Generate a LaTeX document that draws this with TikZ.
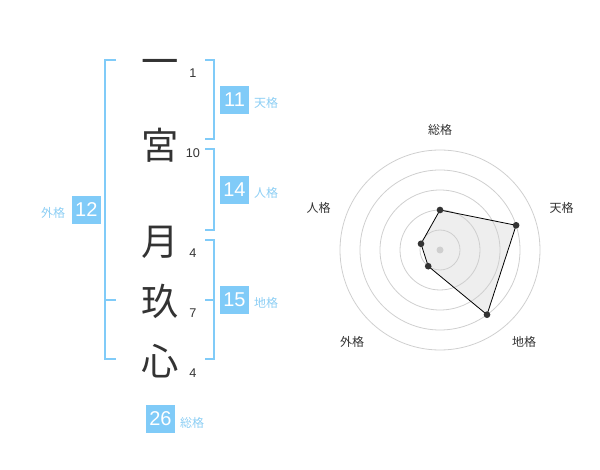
\documentclass[tikz,border=0pt]{standalone}
\usepackage{fontspec}
\setmainfont{Liberation Sans}
\newfontfamily\cjk{Noto Sans CJK JP}
\definecolor{brk}{HTML}{80CBF8}
\definecolor{lbl}{HTML}{8CCEF4}
\definecolor{ink}{HTML}{333333}
\definecolor{ringc}{HTML}{CFCFCF}
\definecolor{area}{HTML}{EEEEEE}
\begin{document}
\begin{tikzpicture}[x=0.75pt,y=-0.75pt,
  bigchar/.style={font=\cjk\fontsize{28}{28}\selectfont,text=ink,inner sep=0pt,text height=0.88em,text depth=0.12em},
  strokes/.style={font=\fontsize{9.5}{10}\selectfont,text=ink,inner sep=0pt},
  numbox/.style={fill=brk,text=white,minimum width=21.75pt,minimum height=21pt,inner sep=0pt,font=\fontsize{15}{15}\selectfont},
  kaku/.style={font=\cjk\fontsize{9}{9}\selectfont,text=lbl,inner sep=0pt},
  bracket/.style={draw=brk,line width=1.5pt},
  ringline/.style={draw=ringc,line width=0.6pt},
  axlabel/.style={font=\cjk\fontsize{9}{9}\selectfont,text=ink,inner sep=0pt},
  dot/.style={circle,fill=ink,inner sep=0pt,minimum size=5pt}]
\useasboundingbox (0,0) rectangle (600,470);
% characters
\node[bigchar] (c1) at (160,70) {一};
\node[bigchar] (c2) at (160,154) {宮};
\node[bigchar] (c3) at (160,250) {月};
\node[bigchar] (c4) at (160,310) {玖};
\node[bigchar] (c5) at (160,370) {心};
% stroke counts
\node[strokes] (s1) at (193,73) {1};
\node[strokes] (s2) at (193,153) {10};
\node[strokes] (s3) at (193,253) {4};
\node[strokes] (s4) at (193,313) {7};
\node[strokes] (s5) at (193,373) {4};
% brackets
\draw[bracket] (116,60) -- (105,60) -- (105,359) -- (116,359);
\draw[bracket] (105,300) -- (116,300);
\draw[bracket] (205,60) -- (214,60) -- (214,139) -- (205,139);
\draw[bracket] (205,149) -- (214,149) -- (214,230) -- (205,230);
\draw[bracket] (205,240) -- (214,240) -- (214,359) -- (205,359);
\draw[bracket] (205,300) -- (214,300);
% boxes
\node[numbox] (ten) at (234.5,100) {11};
\node[kaku] (tenl) at (266,103) {天格};
\node[numbox] (jin) at (234.5,190) {14};
\node[kaku] (jinl) at (266,193) {人格};
\node[numbox] (chi) at (234.5,300) {15};
\node[kaku] (chil) at (266,303) {地格};
\node[numbox] (gai) at (86.3,210) {12};
\node[kaku] (gail) at (53,213) {外格};
\node[numbox] (sou) at (160.5,419) {26};
\node[kaku] (soul) at (192,423) {総格};
% radar
\coordinate (ctr) at (440,250);
\coordinate (p1) at (440,210);
\coordinate (p2) at (516.1,225.3);
\coordinate (p3) at (487.0,314.7);
\coordinate (p4) at (428.2,266.2);
\coordinate (p5) at (421.0,243.8);
\fill[area] (p1) -- (p2) -- (p3) -- (p4) -- (p5) -- cycle;
\foreach \r in {20,40,60,80,100} \draw[ringline] (ctr) circle[radius=\r];
\draw[black,line width=0.6pt] (p1) -- (p2) -- (p3) -- (p4) -- (p5) -- cycle;
\fill[ringc] (ctr) circle[radius=3.5];
\foreach \p in {p1,p2,p3,p4,p5} \node[dot] at (\p) {};
\node[axlabel] (a1) at (440,130) {総格};
\node[axlabel] (a2) at (561.5,208) {天格};
\node[axlabel] (a3) at (524,341.5) {地格};
\node[axlabel] (a4) at (352,341.5) {外格};
\node[axlabel] (a5) at (318.5,208) {人格};
\end{tikzpicture}
\end{document}
